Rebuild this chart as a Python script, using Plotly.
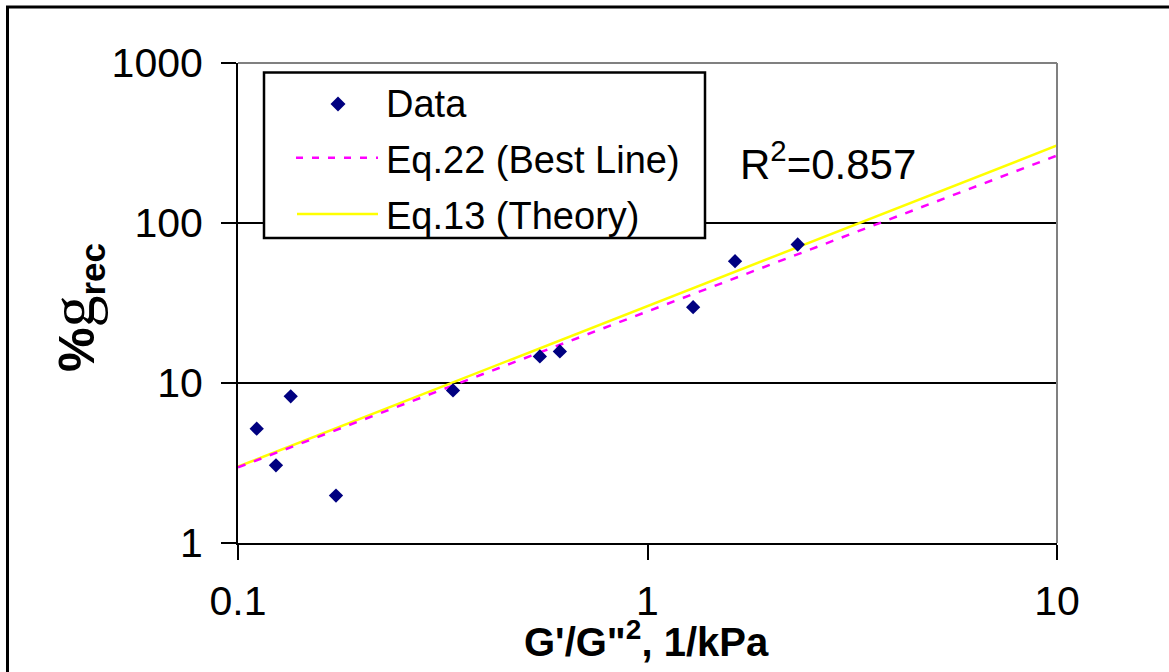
import plotly.graph_objects as go

# ---- data ----
data_x = [0.1111, 0.1238, 0.1345, 0.1735, 0.335, 0.546, 0.611, 1.2925, 1.636, 2.327]
data_y = [5.18, 3.06, 8.25, 1.98, 8.99, 14.66, 15.75, 29.8, 57.7, 73.4]
fit_x = [0.1, 10]
best_y = [2.97, 264]
theory_y = [3.0, 305]
x_ticks = [0.1, 1, 10]
x_ticktext = ["0.1", "1", "10"]
y_ticks = [1, 10, 100, 1000]
y_ticktext = ["1", "10", "100", "1000"]
series_names = ["Data", "Eq.22 (Best Line)", "Eq.13 (Theory)"]
r2_text = "R<sup>2</sup>=0.857"

W, H = 1169, 672
L, R, T, B = 238, 112, 63, 129
PW, PH = W - L - R, H - T - B


def px(xp):
    return (xp - L) / PW


def py(yp):
    return (T + PH - yp) / PH


FONT = "Arial, Liberation Sans, sans-serif"
NAVY = "#000080"
MAG = "#FF00FF"
YEL = "#FFFF00"

fig = go.Figure()
fig.add_trace(go.Scatter(x=fit_x, y=theory_y, mode="lines", name=series_names[2],
                         line=dict(color=YEL, width=2.5), showlegend=False))
fig.add_trace(go.Scatter(x=fit_x, y=best_y, mode="lines", name=series_names[1],
                         line=dict(color=MAG, width=2.5, dash="8px,9px"), showlegend=False))
fig.add_trace(go.Scatter(x=data_x, y=data_y, mode="markers", name=series_names[0],
                         marker=dict(symbol="diamond", size=11, color=NAVY,
                                     line=dict(width=0)), showlegend=False))

axis_common = dict(type="log", ticks="outside", ticklen=15, tickwidth=2, tickcolor="black",
                   showline=True, linecolor="black", linewidth=2, zeroline=False,
                   tickfont=dict(family=FONT, size=41, color="black"))

fig.update_layout(
    width=W, height=H,
    margin=dict(l=L, r=R, t=T, b=B),
    paper_bgcolor="white", plot_bgcolor="white",
    showlegend=False,
    xaxis=dict(range=[-1, 1], tickvals=x_ticks, ticktext=x_ticktext, showgrid=False,
               ticklabelstandoff=6, **axis_common),
    yaxis=dict(range=[0, 3], tickvals=y_ticks, ticktext=y_ticktext, showgrid=True,
               gridcolor="black", gridwidth=2, ticklabelstandoff=10, **axis_common),
)

shapes = []
# outer frame
shapes.append(dict(type="rect", xref="paper", yref="paper",
                   x0=px(7.5), x1=px(1200), y0=py(700), y1=py(7),
                   line=dict(color="black", width=3), fillcolor="rgba(0,0,0,0)", layer="above"))
# gray top/right plot border
shapes.append(dict(type="line", xref="paper", yref="paper", x0=0, x1=1, y0=1, y1=1,
                   line=dict(color="#808080", width=2)))
shapes.append(dict(type="line", xref="paper", yref="paper", x0=1, x1=1, y0=0, y1=1,
                   line=dict(color="#808080", width=2)))
# legend box
shapes.append(dict(type="rect", xref="paper", yref="paper",
                   x0=px(264), x1=px(705), y0=py(238), y1=py(72.5),
                   line=dict(color="black", width=2.5), fillcolor="white", layer="above"))
# legend samples
shapes.append(dict(type="line", xref="paper", yref="paper",
                   x0=px(296), x1=px(378), y0=py(157.7), y1=py(157.7),
                   line=dict(color=MAG, width=2.5, dash="7px,9px")))
shapes.append(dict(type="line", xref="paper", yref="paper",
                   x0=px(297), x1=px(378), y0=py(214), y1=py(214),
                   line=dict(color=YEL, width=2.5)))
cx, cy, hw = 338, 104, 7.5
shapes.append(dict(type="path", xref="paper", yref="paper",
                   path=f"M {px(cx - hw)},{py(cy)} L {px(cx)},{py(cy - hw)} L {px(cx + hw)},{py(cy)} L {px(cx)},{py(cy + hw)} Z",
                   fillcolor=NAVY, line=dict(color=NAVY, width=0)))

annotations = []


def ann(text, x, y, size, xanchor="left", angle=0, family=FONT):
    annotations.append(dict(text=text, x=px(x), y=py(y), xref="paper", yref="paper",
                            xanchor=xanchor, yanchor="middle", showarrow=False,
                            textangle=angle,
                            font=dict(family=family, size=size, color="black")))


ann(series_names[0], 384, 104, 38)
ann(series_names[1], 384, 160, 38)
ann(series_names[2], 384, 216, 38)
ann(r2_text, 738, 161, 42)
ann("<b>G'/G\"<sup>2</sup>, 1/kPa</b>", 646, 639, 40, xanchor="center")
ann("<b>%</b><span style='font-family:Liberation Serif;font-size:64px'>g</span><b><sub>rec</sub></b>",
    74, 308, 50, xanchor="center", angle=-90)

fig.update_layout(shapes=shapes, annotations=annotations)
fig.write_html("out.html")
